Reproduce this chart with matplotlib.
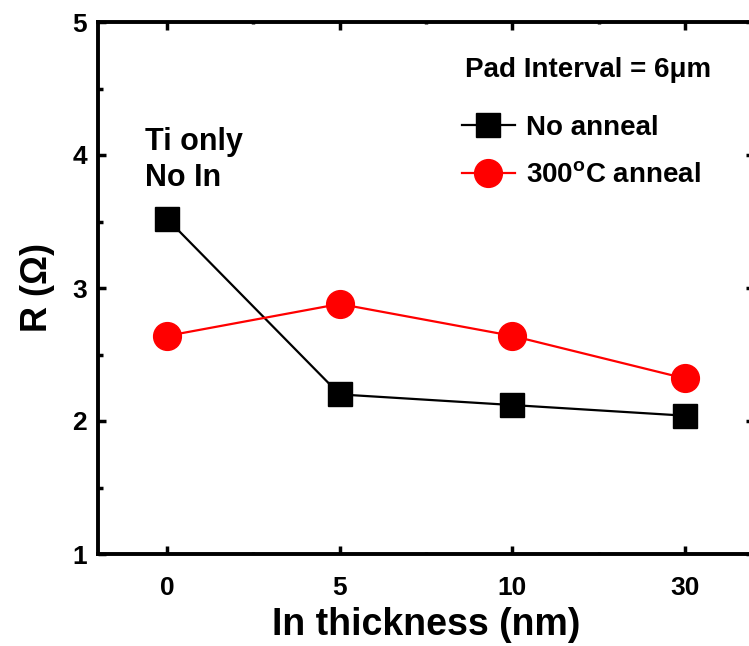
import matplotlib
matplotlib.use("Agg")
import matplotlib.pyplot as plt
from matplotlib.ticker import MultipleLocator, FixedLocator

plt.rcParams['font.family'] = ['Liberation Sans', 'DejaVu Sans']
plt.rcParams['font.weight'] = 'bold'
plt.rcParams['mathtext.default'] = 'regular'

# In thickness categories (nm) and sheet resistance values (ohm)
thickness_labels = ['0', '5', '10', '30']
r_no_anneal = [3.52, 2.20, 2.12, 2.04]
r_300c_anneal = [2.64, 2.88, 2.64, 2.32]

W, H = 749, 646
fig = plt.figure(figsize=(W / 100, H / 100), dpi=100)
ax = fig.add_axes([98 / W, (H - 554) / H, (754 - 98) / W, (554 - 22) / H])

xpos = list(range(len(thickness_labels)))
ax.plot(xpos, r_no_anneal, color='black', lw=1.6, marker='s', markersize=17,
        label='No anneal', zorder=3)
ax.plot(xpos, r_300c_anneal, color='red', lw=1.6, marker='o', markersize=20,
        label='300$^\\mathregular{o}$C anneal', zorder=3)

ax.set_xlim(-0.4, 3.4)
ax.set_ylim(1, 5)
ax.xaxis.set_major_locator(FixedLocator(xpos))
ax.set_xticklabels(thickness_labels)
ax.xaxis.set_minor_locator(FixedLocator([0.5, 1.5, 2.5]))
ax.yaxis.set_major_locator(MultipleLocator(1))
ax.yaxis.set_minor_locator(MultipleLocator(0.5))

for s in ax.spines.values():
    s.set_linewidth(2.8)
ax.tick_params(which='both', direction='in', top=True, right=True, width=2.5)
ax.tick_params(which='major', length=6, labelsize=19)
ax.tick_params(axis='x', which='major', pad=16)
ax.tick_params(axis='y', which='major', pad=8)
ax.tick_params(which='minor', length=3.5)
ax.tick_params(axis='x', which='minor', length=1.5)
for lab in ax.get_xticklabels() + ax.get_yticklabels():
    lab.set_fontweight('bold')

ax.set_xlabel('In thickness (nm)', fontsize=27, fontweight='bold', labelpad=5)
ax.set_ylabel('R (\u03a9)', fontsize=26, fontweight='bold', labelpad=12)

ax.text(-0.13, 4.038, 'Ti only', fontsize=22, fontweight='bold',
        ha='left', va='baseline')
ax.text(-0.13, 3.767, 'No In', fontsize=22, fontweight='bold',
        ha='left', va='baseline')

ax.text(0.559, 0.91, 'Pad Interval = 6\u03bcm', transform=ax.transAxes,
        fontsize=20, fontweight='bold', ha='left', va='center')

leg = ax.legend(loc='upper left', bbox_to_anchor=(0.555, 0.825), frameon=False,
                fontsize=20, handlelength=1.9, handletextpad=0.4,
                labelspacing=0.77, borderaxespad=0, borderpad=0)
for t in leg.get_texts():
    t.set_fontweight('bold')

fig.savefig('out.png', dpi=100)
